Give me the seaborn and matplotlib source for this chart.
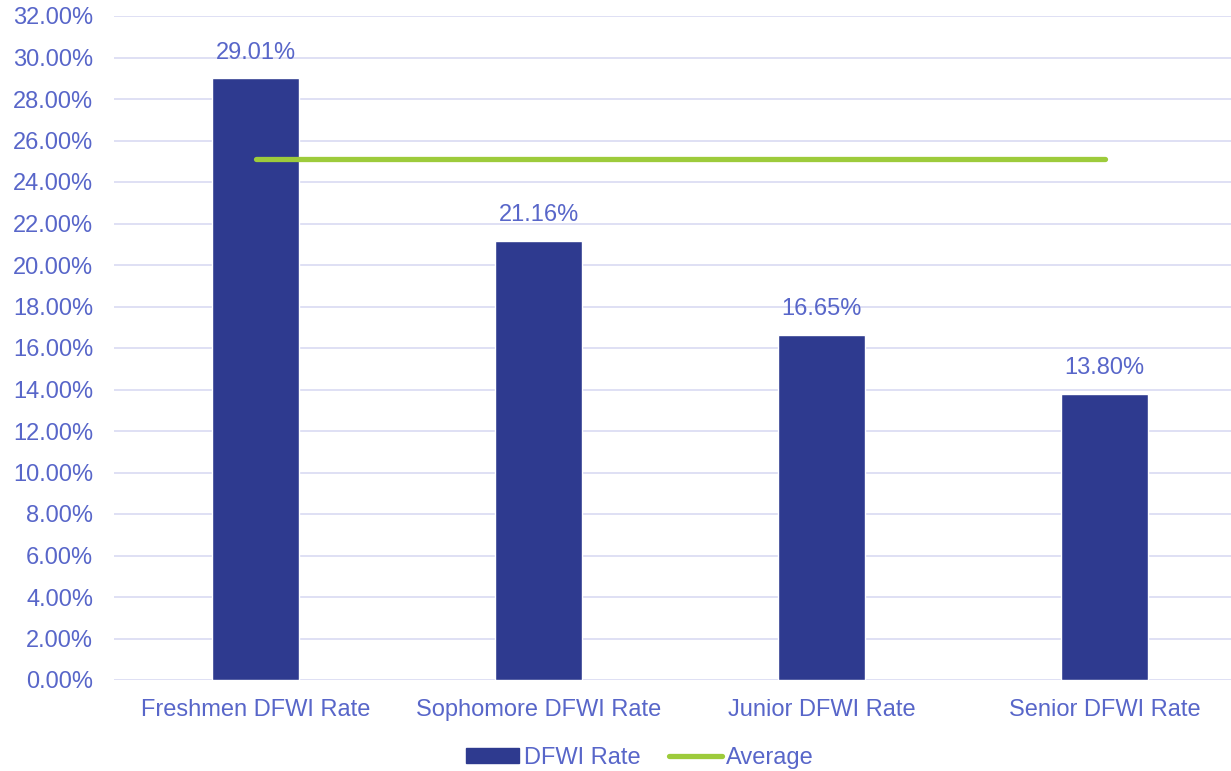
import matplotlib
matplotlib.use("Agg")
import matplotlib.pyplot as plt
import seaborn as sns
import pandas as pd
from matplotlib.ticker import FuncFormatter, MultipleLocator
from matplotlib.patches import Patch
from matplotlib.lines import Line2D

categories = ["Freshmen DFWI Rate", "Sophomore DFWI Rate", "Junior DFWI Rate", "Senior DFWI Rate"]
dfwi_rate = [29.01, 21.16, 16.65, 13.80]
average = [25.1, 25.1, 25.1, 25.1]

sns.set_theme(style="white")
plt.rcParams['font.family'] = ['Liberation Sans', 'DejaVu Sans']

TXT = "#5866C9"
BAR = "#2E3A8F"
LINE = "#9DCB3B"
GRID = "#DCDDF3"
FS = 17

fig = plt.figure(figsize=(12.31, 7.71), dpi=100)
ax = fig.add_axes([114/1231, 91/771, (1246-114)/1231, (680-16)/771])

df = pd.DataFrame({"cat": categories, "rate": dfwi_rate, "avg": average})
sns.barplot(data=df, x="cat", y="rate", color=BAR, width=0.31, ax=ax, saturation=1)
sns.lineplot(x=list(range(len(categories))), y=average, color=LINE, linewidth=3.8, ax=ax,
             solid_capstyle="round")

for i, v in enumerate(dfwi_rate):
    ax.text(i, v + 0.7, f"{v:.2f}%", ha="center", va="bottom", color=TXT, fontsize=FS)

ax.set_xlim(-0.5, 3.5)
ax.set_ylim(0, 32)
ax.yaxis.set_major_locator(MultipleLocator(2))
ax.yaxis.set_major_formatter(FuncFormatter(lambda v, p: f"{v:.2f}%"))
ax.grid(axis="y", color=GRID, linewidth=1.3)
ax.set_axisbelow(True)
for s in ax.spines.values():
    s.set_visible(False)
ax.set_xlabel("")
ax.set_ylabel("")
ax.tick_params(axis="y", colors=TXT, labelsize=FS, length=0, pad=15)
ax.tick_params(axis="x", colors=TXT, labelsize=FS, length=0, pad=14)

handles = [Patch(color=BAR, label="DFWI Rate"),
           Line2D([0], [0], color=LINE, linewidth=3.8, solid_capstyle="round", label="Average")]
leg = fig.legend(handles=handles, loc="center", bbox_to_anchor=(640/1231, 1 - 758/771), ncol=2,
                 frameon=False, fontsize=FS, handlelength=2.25, handletextpad=0.2, columnspacing=1.2,
                 handleheight=0.6, borderpad=0, borderaxespad=0)
for t in leg.get_texts():
    t.set_color(TXT)

fig.savefig("out.png", dpi=100)
